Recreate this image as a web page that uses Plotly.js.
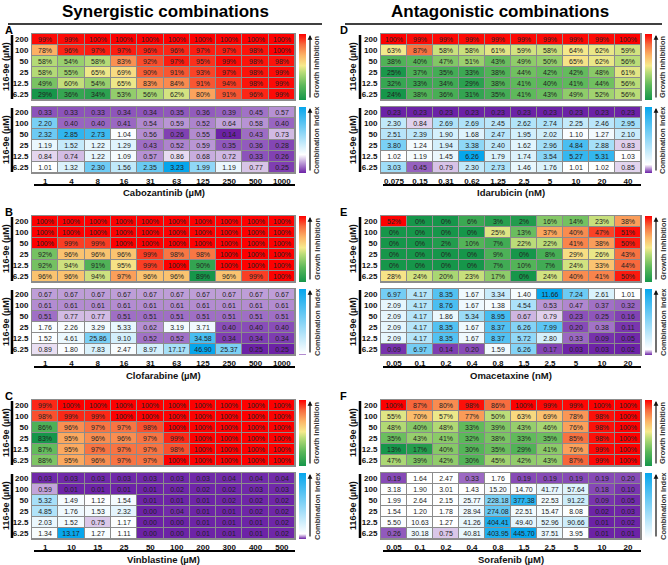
<!DOCTYPE html>
<html><head><meta charset="utf-8">
<script src="https://cdn.plot.ly/plotly-3.0.1.min.js"></script>
<style>html,body{margin:0;padding:0;background:#fff}#chart{width:668px;height:565px}</style>
</head><body><div id="chart"></div>
<script>
// ---------- DATA ----------
const rows116 = ["200","100","50","25","12.5","6.25"];

const cabozantinibDoses = ["1","4","8","16","31","63","125","250","500","1000"];
const cabozantinibGI = [
 [99,99,100,100,100,100,100,100,100,100],
 [78,96,97,97,96,96,97,97,98,100],
 [58,54,58,83,92,97,95,99,98,98],
 [58,55,65,69,90,91,93,97,98,99],
 [49,60,54,65,83,84,91,94,98,99],
 [29,36,34,53,56,62,80,91,96,99]];
const cabozantinibCI = [
 [0.33,0.33,0.33,0.34,0.34,0.35,0.36,0.39,0.45,0.57],
 [2.20,0.40,0.40,0.41,0.54,0.59,0.52,0.64,0.58,0.40],
 [2.32,2.85,2.73,1.04,0.56,0.26,0.55,0.14,0.43,0.73],
 [1.19,1.52,1.22,1.29,0.43,0.52,0.59,0.35,0.36,0.28],
 [0.84,0.74,1.22,1.09,0.57,0.86,0.68,0.72,0.33,0.26],
 [1.01,1.32,2.30,1.56,2.35,3.23,1.99,1.19,0.77,0.25]];

const clofarabineDoses = ["1","4","8","16","31","63","125","250","500","1000"];
const clofarabineGI = [
 [100,100,100,100,100,100,100,100,100,100],
 [100,100,100,100,100,100,100,100,100,100],
 [100,99,99,100,100,100,100,100,100,100],
 [92,96,96,96,99,98,98,100,100,100],
 [92,94,91,95,99,100,90,100,100,100],
 [96,96,94,97,96,96,89,96,99,100]];
const clofarabineCI = [
 [0.67,0.67,0.67,0.67,0.67,0.67,0.67,0.67,0.67,0.67],
 [0.61,0.61,0.61,0.61,0.61,0.61,0.61,0.61,0.61,0.61],
 [0.51,0.77,0.77,0.51,0.51,0.51,0.51,0.51,0.51,0.51],
 [1.76,2.26,3.29,5.33,0.62,3.19,3.71,0.40,0.40,0.40],
 [1.52,4.61,25.86,9.10,0.52,0.52,34.58,0.34,0.34,0.34],
 [0.89,1.80,7.83,2.47,8.97,17.17,46.90,25.37,0.25,0.25]];

const vinblastineDoses = ["1","10","15","25","50","100","200","300","400","500"];
const vinblastineGI = [
 [99,100,100,100,100,100,100,100,100,100],
 [98,99,99,100,100,100,100,100,100,100],
 [86,96,97,97,98,100,100,100,100,100],
 [83,95,96,96,97,99,100,100,100,100],
 [87,95,97,97,97,98,100,100,100,100],
 [88,95,96,97,97,100,100,100,100,100]];
const vinblastineCI = [
 [0.03,0.03,0.03,0.03,0.03,0.03,0.03,0.04,0.04,0.04],
 [0.59,0.01,0.01,0.01,0.01,0.02,0.02,0.02,0.03,0.03],
 [5.32,1.49,1.12,1.54,0.01,0.01,0.01,0.02,0.02,0.02],
 [4.85,1.76,1.53,2.32,0.00,0.04,0.01,0.01,0.02,0.02],
 [2.03,1.52,0.75,1.17,0.00,0.00,0.01,0.01,0.01,0.02],
 [1.34,13.17,1.27,1.11,0.00,0.00,0.01,0.01,0.01,0.02]];

const idarubicinDoses = ["0.075","0.15","0.31","0.62","1.25","2.5","5","10","20","40"];
const idarubicinGI = [
 [100,99,99,99,99,99,99,99,99,100],
 [63,87,58,58,61,59,58,64,62,59],
 [38,40,47,51,43,49,50,65,62,56],
 [25,37,35,33,38,44,42,42,48,61],
 [32,33,34,29,38,41,40,41,44,56],
 [24,38,36,31,35,41,43,49,52,56]];
const idarubicinCI = [
 [0.23,0.23,0.23,0.23,0.23,0.23,0.23,0.23,0.23,0.23],
 [2.30,0.84,2.69,2.69,2.45,2.62,2.74,2.25,2.46,2.95],
 [2.51,2.39,1.90,1.68,2.47,1.95,2.02,1.10,1.27,2.10],
 [3.80,1.24,1.94,3.38,2.40,1.62,2.96,4.84,2.88,0.83],
 [1.02,1.19,1.45,6.26,1.79,1.74,3.54,5.27,5.31,1.03],
 [3.03,0.45,0.79,2.30,2.73,1.46,1.76,1.01,1.02,0.85]];

const omacetaxineDoses = ["0.05","0.1","0.2","0.4","0.8","1.5","2.5","5","10","20"];
const omacetaxineGI = [
 [52,0,0,6,3,2,16,14,23,38],
 [0,0,0,0,25,13,37,40,47,51],
 [0,0,2,10,7,22,22,41,38,50],
 [0,0,0,0,9,0,8,29,26,43],
 [0,0,0,0,7,10,7,24,33,44],
 [28,24,20,23,17,0,24,40,41,50]];
const omacetaxineCI = [
 [6.97,4.17,8.35,1.67,3.34,1.40,11.66,7.24,2.61,1.01],
 [2.09,4.17,8.76,1.67,1.38,4.54,0.53,0.47,0.37,0.32],
 [2.09,4.17,1.86,5.34,8.95,0.67,0.79,0.23,0.25,0.16],
 [2.09,4.17,8.35,1.67,8.37,6.26,7.99,0.20,0.38,0.11],
 [2.09,4.17,8.35,1.67,8.37,5.72,2.80,0.33,0.09,0.05],
 [0.09,6.97,0.14,0.20,1.59,6.26,0.17,0.03,0.03,0.02]];

const sorafenibDoses = ["0.05","0.1","0.2","0.4","0.8","1.5","2.5","5","10","20"];
const sorafenibGI = [
 [100,87,80,98,86,100,99,99,100,100],
 [55,70,57,77,50,63,69,78,98,100],
 [48,40,48,33,39,43,46,76,98,100],
 [35,43,41,32,38,33,35,85,98,100],
 [13,17,40,30,35,29,41,76,99,100],
 [47,39,42,30,45,42,43,87,99,100]];
const sorafenibCI = [
 [0.19,1.64,2.47,0.33,1.76,0.19,0.19,0.19,0.19,0.20],
 [3.18,1.90,3.01,1.43,15.20,14.70,41.77,57.64,0.18,0.10],
 [1.99,2.64,2.15,25.77,228.18,377.38,22.53,91.22,0.09,0.05],
 [1.54,1.20,1.78,28.94,274.08,22.51,15.47,8.08,0.02,0.03],
 [5.50,10.63,1.27,41.26,404.41,49.40,52.96,90.66,0.01,0.02],
 [0.26,30.18,0.75,40.81,403.95,445.70,37.51,3.95,0.01,0.01]];

const panelLetters = ["A","B","C","D","E","F"];
const drugTitles = ["Cabozantinib (µM)","Clofarabine (µM)","Vinblastine (µM)","Idarubicin (nM)","Omacetaxine (nM)","Sorafenib (µM)"];
const sectionTitles = ["Synergistic combinations","Antagonistic combinations"];
const yTitle = "116-9e (µM)";
const giLabel = "Growth Inhibition";
const ciLabel = "Combination Index";

// ---------- LAYOUT / STYLE ----------
const W = 668, H = 565;
const px = x => x / W, py = y => 1 - y / H;
const FONT = "Liberation Sans, Arial, sans-serif";
const giScale = [[0,'#16964a'],[0.22,'#5cb85a'],[0.42,'#b9dc78'],[0.52,'#f6ea8c'],[0.68,'#fcb466'],[0.84,'#f76d3f'],[1,'#fe0000']];
const PURPLE = '#6c22a6', BLUE = '#06a6ec';

const panelDefs = [
 {doses:cabozantinibDoses, gi:cabozantinibGI, ci:cabozantinibCI},
 {doses:clofarabineDoses, gi:clofarabineGI, ci:clofarabineCI},
 {doses:vinblastineDoses, gi:vinblastineGI, ci:vinblastineCI},
 {doses:idarubicinDoses, gi:idarubicinGI, ci:idarubicinCI},
 {doses:omacetaxineDoses, gi:omacetaxineGI, ci:omacetaxineCI},
 {doses:sorafenibDoses, gi:sorafenibGI, ci:sorafenibCI}];

const tops = [34, 216, 400];
const cols = [{x0:32, x1:295, yline:12, ytitle:6, letter:3}, {x0:381, x1:641, yline:360, ytitle:353, letter:338}];
const HM = 66, GAP = 7;

const traces = [], shapes = [], annotations = [];
const layout = {
  width: W, height: H, margin:{l:0,r:0,t:0,b:0},
  paper_bgcolor:'#fff', plot_bgcolor:'#8c8c8c', showlegend:false,
  font:{family:FONT, color:'#111'}
};

let axN = 0;
panelDefs.forEach((p, i) => {
  const c = cols[Math.floor(i/3)];
  const top = tops[i%3];
  const blocks = [
    {z:p.gi, top:top, kind:'gi'},
    {z:p.ci, top:top+HM+GAP, kind:'ci'}];
  blocks.forEach(b => {
    axN++;
    const xa = 'xaxis'+axN, ya = 'yaxis'+axN;
    const bottom = b.top + HM;
    let colorscale;
    const flat = b.z.flat();
    const zmin = Math.min(...flat), zmax = Math.max(...flat);
    if (b.kind === 'gi') {
      colorscale = giScale;
    } else {
      const mid = Math.min(Math.max((1 - zmin)/(zmax - zmin), 0.001), 0.999);
      colorscale = [[0,PURPLE],[mid,'#ffffff'],[1,BLUE]];
    }
    traces.push({
      type:'heatmap', x:p.doses, y:rows116, z:b.z,
      xaxis:'x'+axN, yaxis:'y'+axN,
      colorscale:colorscale, zmin:zmin, zmax:zmax,
      xgap:1, ygap:1,
      texttemplate: b.kind==='gi' ? '%{z}%' : '%{z:.2f}',
      textfont:{family:FONT, size:7, color:'#222'},
      hoverinfo:'skip',
      showscale:true,
      colorbar:{x:px(c.x1+4), xanchor:'left', xpad:0, ypad:0, y:py(b.top), yanchor:'top',
        len:HM, lenmode:'pixels', thickness:7, thicknessmode:'pixels',
        showticklabels:false, ticks:'', outlinewidth:0}
    });
    layout[xa] = {domain:[px(c.x0), px(c.x1)], anchor:'y'+axN, type:'category',
      showgrid:false, zeroline:false, showline:true, mirror:true, linecolor:'#8c8c8c', linewidth:1,
      ticks:'', showticklabels: b.kind==='ci', ticklabelstandoff:0,
      tickfont:{family:FONT, size:8, weight:700, color:'#111'}, fixedrange:true};
    layout[ya] = {domain:[py(bottom), py(b.top)], anchor:'x'+axN, type:'category',
      autorange:'reversed', showgrid:false, zeroline:false, showline:true, mirror:true,
      linecolor:'#8c8c8c', linewidth:1, ticks:'', ticklabelstandoff:1,
      tickfont:{family:FONT, size:8, weight:700, color:'#111'}, fixedrange:true};
    // y-axis thick line and title
    shapes.push({type:'line', xref:'paper', yref:'paper', x0:px(c.yline), x1:px(c.yline),
      y0:py(b.top+1), y1:py(bottom-1), line:{color:'#000', width:2.5}});
    annotations.push({xref:'paper', yref:'paper', x:px(c.ytitle), y:py((b.top+bottom)/2),
      text:yTitle, textangle:-90, showarrow:false, xanchor:'center', yanchor:'middle',
      font:{family:FONT, size:9, weight:700, color:'#111'}});
    // colorbar arrow + label
    annotations.push({xref:'paper', yref:'paper', x:px(c.x1+15), y:py(b.top+1), text:'',
      showarrow:true, ax:0, ay:HM-2, arrowhead:2, arrowsize:0.8, arrowwidth:1.2, arrowcolor:'#111'});
    annotations.push({xref:'paper', yref:'paper', x:px(c.x1+22), y:py((b.top+bottom)/2),
      text: b.kind==='gi' ? giLabel : ciLabel, textangle:-90, showarrow:false,
      xanchor:'center', yanchor:'middle', font:{family:FONT, size:7.5, weight:700, color:'#333'}});
  });
  // panel letter
  annotations.push({xref:'paper', yref:'paper', x:px(c.letter), y:py(top-4), text:panelLetters[i],
    showarrow:false, xanchor:'left', yanchor:'middle', font:{family:FONT, size:11, weight:700, color:'#000'}});
  // drug axis line and title
  const bot = top + 2*HM + GAP;
  shapes.push({type:'line', xref:'paper', yref:'paper', x0:px(c.x0+2), x1:px(c.x1), y0:py(bot+12), y1:py(bot+12),
    line:{color:'#000', width:2}});
  annotations.push({xref:'paper', yref:'paper', x:px((c.x0+c.x1)/2), y:py(bot+20), text:drugTitles[i],
    showarrow:false, xanchor:'center', yanchor:'middle', font:{family:FONT, size:9.5, weight:700, color:'#111'}});
});

// section titles
[[165, 8, 322],[500, 345, 662]].forEach((s, k) => {
  annotations.push({xref:'paper', yref:'paper', x:px(s[0]), y:py(12), text:sectionTitles[k], showarrow:false,
    xanchor:'center', yanchor:'middle', font:{family:FONT, size:17, weight:700, color:'#000'}});
  shapes.push({type:'line', xref:'paper', yref:'paper', x0:px(s[1]), x1:px(s[2]), y0:py(24), y1:py(24),
    line:{color:'#000', width:1.5}});
});

layout.shapes = shapes;
layout.annotations = annotations;
Plotly.newPlot('chart', traces, layout, {staticPlot:true, displayModeBar:false});
</script></body></html>
